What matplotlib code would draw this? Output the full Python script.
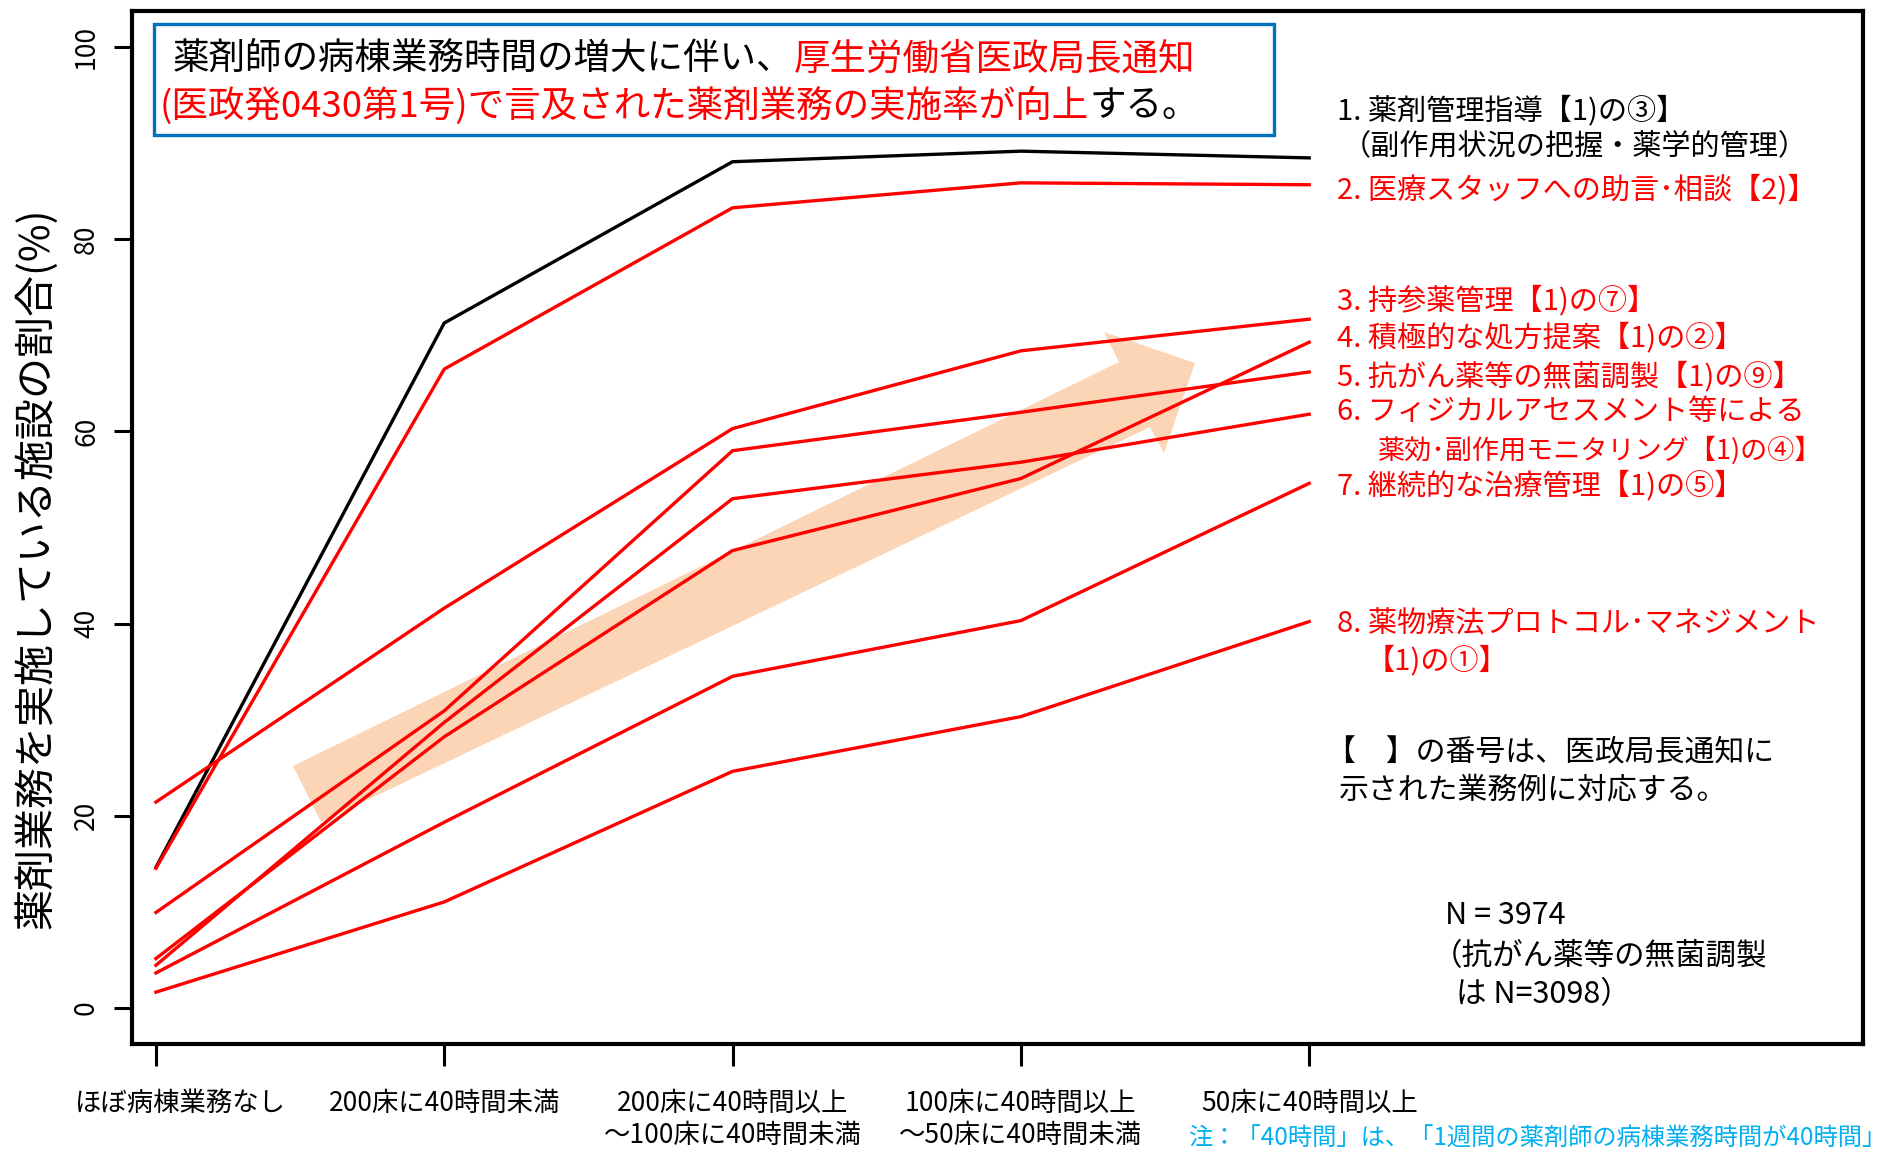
import numpy as np
import matplotlib
matplotlib.use("Agg")
import matplotlib.pyplot as plt
import matplotlib.transforms as mtransforms
from matplotlib.patches import Polygon, Rectangle

plt.rcParams['font.family'] = ['Noto Sans CJK JP', 'DejaVu Sans']

# 病棟業務時間の区分
categories = ["ほぼ病棟業務なし", "200床に40時間未満",
              "200床に40時間以上\n～100床に40時間未満",
              "100床に40時間以上\n～50床に40時間未満",
              "50床に40時間以上"]

# 実施率 (%)
s1 = [14.6, 71.3, 88.1, 89.2, 88.5]   # 薬剤管理指導
s2 = [14.5, 66.5, 83.3, 85.9, 85.7]   # 医療スタッフへの助言・相談
s3 = [21.4, 41.6, 60.3, 68.4, 71.7]   # 持参薬管理
s4 = [5.1, 28.2, 47.6, 55.1, 69.3]    # 積極的な処方提案
s5 = [9.9, 30.9, 58.0, 62.0, 66.2]    # 抗がん薬等の無菌調製
s6 = [4.4, 29.7, 53.0, 56.8, 61.8]    # フィジカルアセスメント
s7 = [3.6, 19.3, 34.5, 40.3, 54.6]    # 継続的な治療管理
s8 = [1.6, 11.0, 24.6, 30.3, 40.2]    # プロトコル

series = [s1, s2, s3, s4, s5, s6, s7, s8]
colors = ["black"] + ["red"] * 7

W, H = 1885, 1153
fig = plt.figure(figsize=(W / 100, H / 100), dpi=100)
ax = fig.add_axes([132 / W, 1 - 1044 / H, (1863 - 132) / W, (1044 - 11) / H])


def fx(x):
    return x / W


def fy(y):
    return 1 - y / H


x = np.arange(len(categories))

# 背景の矢印 (装飾)
arrow_px = [(293, 766), (1119, 362), (1104, 332), (1195, 363),
            (1164, 453), (1150, 427), (321, 822)]
arrow = Polygon([(fx(a), fy(b)) for a, b in arrow_px], closed=True,
                facecolor="#FBD5B5", edgecolor="none", transform=fig.transFigure, zorder=1)
ax.add_patch(arrow)

for s, c in zip(series, colors):
    ax.plot(x, s, color=c, lw=2.4, zorder=2, solid_joinstyle="miter")

ax.set_xlim(-0.083, 5.921)
ax.set_ylim(-3.8, 103.8)

for sp in ax.spines.values():
    sp.set_linewidth(3)

ax.set_xticks(x)
ax.set_xticklabels(categories, fontsize=19, linespacing=1.25)
ax.set_yticks([0, 20, 40, 60, 80, 100])
ax.set_yticklabels(["0", "20", "40", "60", "80", "100"], fontsize=19, rotation=90, va="center")
ax.tick_params(axis="x", length=16, width=2.2, pad=17)
ax.tick_params(axis="y", length=13, width=2.2, pad=10)

# 最初のラベルは少し右寄り
lab0 = ax.get_xticklabels()[0]
lab0.set_transform(lab0.get_transform() + mtransforms.ScaledTranslation(0.25, 0, fig.dpi_scale_trans))

ax.set_ylabel("薬剤業務を実施している施設の割合(%)", fontsize=29.5, va="center")
ax.yaxis.set_label_coords(-0.0555, 0.461)

# タイトルの枠
box = Rectangle((fx(154), fy(135)), (1274 - 154) / W, (135 - 24) / H, transform=fig.transFigure,
                facecolor="white", edgecolor="#0070C0", lw=2.4, zorder=3)
ax.add_patch(box)

tfs = 26.3
t = ax.text(fx(173), fy(60), "薬剤師の病棟業務時間の増大に伴い、", transform=fig.transFigure,
            fontsize=tfs, va="center", ha="left", zorder=4)
ax.annotate("厚生労働省医政局長通知", xy=(1, 0.5), xycoords=t, fontsize=tfs,
            va="center", ha="left", color="red", zorder=4)
t = ax.text(fx(160), fy(106), "(医政発0430第1号)で言及された薬剤業務の実施率が向上",
            transform=fig.transFigure, fontsize=tfs, va="center", ha="left", color="red", zorder=4)
ax.annotate("する。", xy=(1, 0.5), xycoords=t, fontsize=tfs, va="center", ha="left", zorder=4)

# 右側の凡例テキスト
legend_items = [
    (1337, 111, "1. 薬剤管理指導【1)の③】", "black", 21),
    (1342, 147, "（副作用状況の把握・薬学的管理）", "black", 21),
    (1337, 190, "2. 医療スタッフへの助言･相談【2)】", "red", 21),
    (1337, 301, "3. 持参薬管理【1)の⑦】", "red", 21),
    (1337, 338, "4. 積極的な処方提案【1)の②】", "red", 21),
    (1337, 377, "5. 抗がん薬等の無菌調製【1)の⑨】", "red", 21),
    (1337, 412, "6. フィジカルアセスメント等による", "red", 21),
    (1378, 450, "薬効･副作用モニタリング【1)の④】", "red", 19.5),
    (1337, 486, "7. 継続的な治療管理【1)の⑤】", "red", 21),
    (1337, 624, "8. 薬物療法プロトコル･マネジメント", "red", 21),
    (1366, 661, "【1)の①】", "red", 21),
]
for lx, ly, txt, c, fs in legend_items:
    fig.text(fx(lx), fy(ly), txt, fontsize=fs, color=c, va="center", ha="left")

fig.text(fx(1326), fy(753), "【　】の番号は、医政局長通知に", fontsize=21.5, va="center", ha="left")
fig.text(fx(1339), fy(790), "示された業務例に対応する。", fontsize=21.5, va="center", ha="left")

fig.text(fx(1445), fy(916), "N = 3974", fontsize=22, va="center", ha="left")
fig.text(fx(1432), fy(957), "（抗がん薬等の無菌調製", fontsize=22, va="center", ha="left")
fig.text(fx(1456), fy(995), "は N=3098）", fontsize=22, va="center", ha="left")

fig.text(fx(1188), fy(1126), "注：「40時間」は、「1週間の薬剤師の病棟業務時間が40時間」",
         fontsize=17.5, color="#00B0F0", va="top", ha="left")

fig.savefig("out.png", dpi=100)
